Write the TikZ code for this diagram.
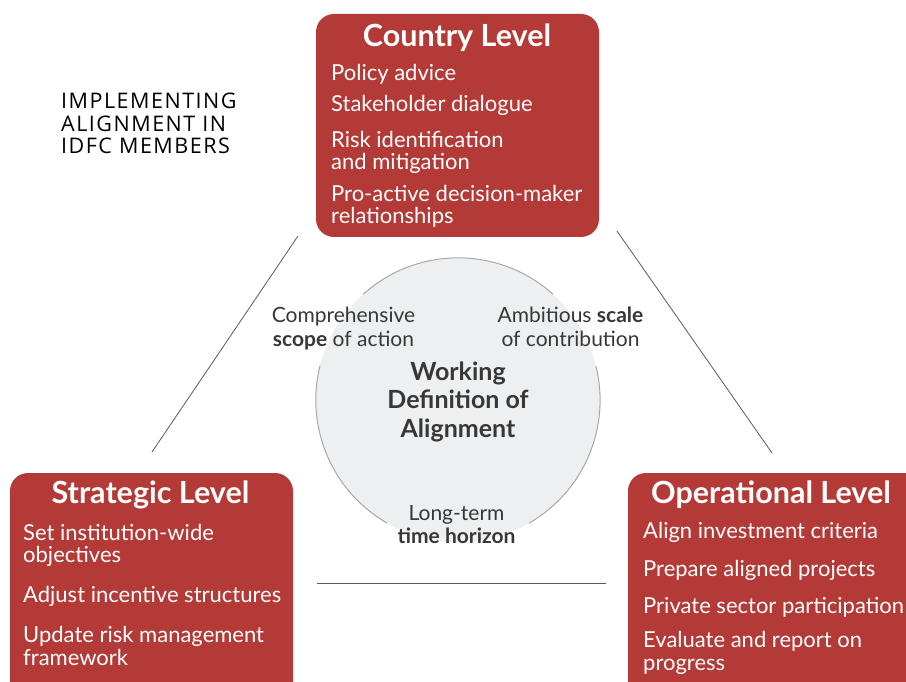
\documentclass[tikz,border=0pt]{standalone}
\usepackage{fontspec}
\setmainfont{Lato}
\newfontfamily\headfont[LetterSpace=7]{Open Sans}
\definecolor{boxred}{RGB}{179,58,54}
\definecolor{corefill}{RGB}{238,239,240}
\definecolor{coreline}{RGB}{168,168,168}
\definecolor{darktext}{RGB}{55,55,55}
\begin{document}
\begin{tikzpicture}[x=1pt, y=-1pt,
		levelbox/.style={fill=boxred, rounded corners=18pt, minimum width=283pt, inner sep=0pt},
		leveltitle/.style={anchor=base, text=white, inner sep=0pt, font=\fontsize{30.5}{33}\selectfont\bfseries},
		levellist/.style={anchor=base west, text=white, inner sep=0pt, align=left, font=\fontsize{22}{22.5}\selectfont},
		corelabel/.style={anchor=base, text=darktext, inner sep=0pt, align=center, font=\fontsize{21}{24}\selectfont},
		link/.style={draw=black!65, line width=0.8pt}]
			\useasboundingbox (0,0) rectangle (906,682);
			\clip (0,0) rectangle (906,682);
			% heading (anchored at its last line)
			\node[anchor=base west, inner sep=0pt, align=left, font=\headfont\fontsize{21.5}{22.5}\selectfont] (heading) at (61,154) {IMPLEMENTING\\ALIGNMENT IN\\IDFC MEMBERS};
			% lines between the levels
			\coordinate (cs-a) at (298,236);
			\coordinate (cs-b) at (152,452);
			\coordinate (co-a) at (617,231);
			\coordinate (co-b) at (772,453);
			\coordinate (so-a) at (317,583);
			\coordinate (so-b) at (606,583);
			\draw[link] (cs-a) -- (cs-b);
			\draw[link] (co-a) -- (co-b);
			\draw[link] (so-a) -- (so-b);
			% working definition
			\node[circle, fill=corefill, minimum size=284pt, inner sep=0pt] (core) at (458,400) {};
			\draw[coreline, line width=1pt] (core.48) arc[start angle=-48, end angle=-132, radius=142];
			\draw[coreline, line width=1pt] (core.166) arc[start angle=-166, end angle=-240, radius=142];
			\draw[coreline, line width=1pt] (core.300) arc[start angle=-300, end angle=-374, radius=142];
			\node[corelabel, font=\fontsize{25}{28.5}\selectfont\bfseries] (core-title) at (458,437) {Working\\Definition of\\Alignment};
			\node[corelabel] (scope) at (343.5,346) {Comprehensive\\\textbf{scope} of action};
			\node[corelabel] (scale) at (570.5,346) {Ambitious \textbf{scale}\\of contribution};
			\node[corelabel, font=\fontsize{21}{23}\selectfont] (horizon) at (456.5,543) {Long-term\\\textbf{time horizon}};
			% country level
			\node[levelbox, minimum height=223pt] (country) at (457.5,125.5) {};
			\node[leveltitle] (country-title) at (457,47) {Country Level};
			\node[levellist] (country-list) at (331,224) {Policy advice\\[9.5pt]Stakeholder dialogue\\[12.5pt]Risk identification\\and mitigation\\[9.5pt]Pro-active decision-maker\\relationships};
			% strategic level
			\node[levelbox, minimum height=260pt] (strategic) at (151.5,603) {};
			\node[leveltitle] (strategic-title) at (150.5,503) {Strategic Level};
			\node[levellist] (strategic-list) at (23,665) {Set institution-wide\\objectives\\[17.5pt]Adjust incentive structures\\[17.5pt]Update risk management\\framework};
			% operational level
			\node[levelbox, minimum width=300pt, minimum height=260pt] (operational) at (778,603) {};
			\node[leveltitle] (operational-title) at (771,503) {Operational Level};
			\node[levellist] (operational-list) at (643,670) {Align investment criteria\\[15.5pt]Prepare aligned projects\\[14.5pt]Private sector participation\\[11.5pt]Evaluate and report on\\progress};
		\end{tikzpicture}
\end{document}
